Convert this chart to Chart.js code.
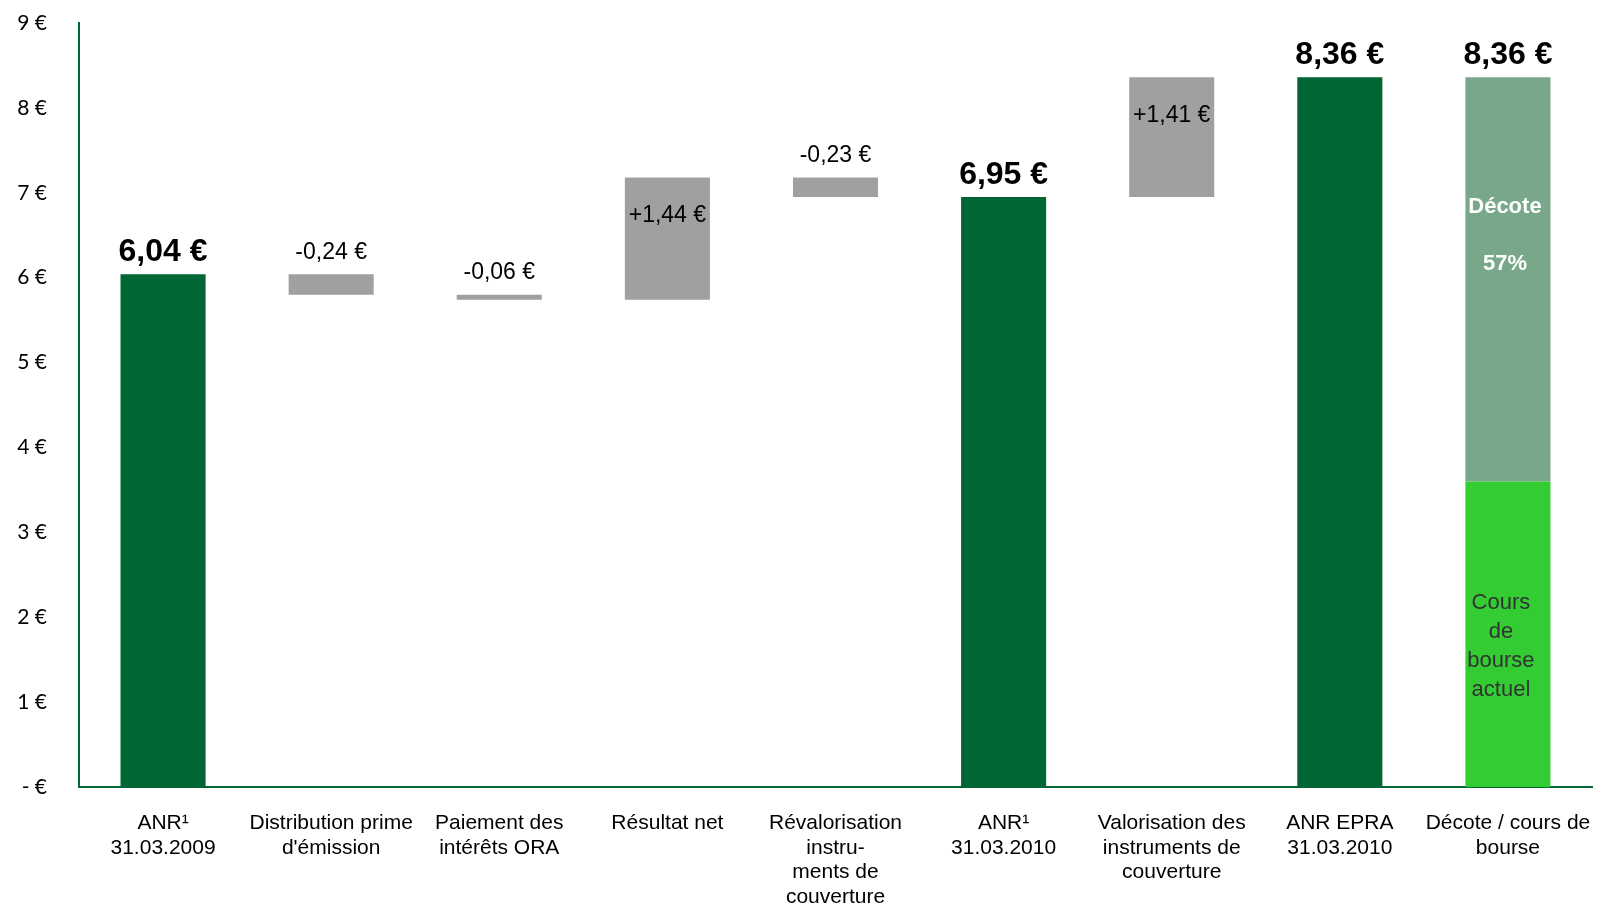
<!DOCTYPE html>
<html>
<head>
<meta charset="utf-8">
<script src="https://cdn.jsdelivr.net/npm/chart.js@4"></script>
<style>
  html, body { margin: 0; padding: 0; background: #fff; }
  #wrap { width: 1598px; height: 906px; }
</style>
</head>
<body>
<div id="wrap"><canvas id="anr-chart" width="1598" height="906"></canvas></div>
<script>
// Evolution de l'ANR par action
var categories = [
	['ANR\u00B9', '31.03.2009'],
	['Distribution prime', "d'émission"],
	['Paiement des', 'intérêts ORA'],
	['Résultat net'],
	['Révalorisation', 'instru-', 'ments de', 'couverture'],
	['ANR\u00B9', '31.03.2010'],
	['Valorisation des', 'instruments de', 'couverture'],
	['ANR EPRA', '31.03.2010'],
	['Décote / cours de', 'bourse']
];
var stepKind = ['total', 'delta', 'delta', 'delta', 'delta', 'total', 'delta', 'total', 'split'];
var stepValues = [6.04, -0.24, -0.06, 1.44, -0.23, 6.95, 1.41, 8.36, 8.36];
var coursBourse = 3.60;
var decotePct = 57;
var yTicks = [0, 1, 2, 3, 4, 5, 6, 7, 8, 9];

var colors = {
	total: '#006633',
	delta: '#A0A0A2',
	cours: '#33CC33',
	decote: '#78A889'
};

function euro(v, signed) {
	var s = v.toFixed(2).replace('.', ',') + ' €';
	return (signed && v > 0 ? '+' : '') + s;
}

// floating ranges for the waterfall
var mainData = [], mainColors = [], decoteData = [];
var run = 0;
stepKind.forEach(function (kind, i) {
	var v = stepValues[i];
	if (kind == 'total') {
		run = v;
		mainData.push([0, v]);
		mainColors.push(colors.total);
		decoteData.push(null);
	} else if (kind == 'delta') {
		mainData.push([run, run + v]);
		run = run + v;
		mainColors.push(colors.delta);
		decoteData.push(null);
	} else {
		mainData.push([0, coursBourse]);
		mainColors.push(colors.cours);
		decoteData.push([coursBourse, v]);
	}
});

var labelPlugin = {
	id: 'waterfallLabels',
	afterDatasetsDraw: function (chart) {
		var ctx = chart.ctx;
		var y = chart.scales.y;
		var meta = chart.getDatasetMeta(0);
		ctx.save();
		ctx.textAlign = 'center';
		stepKind.forEach(function (kind, i) {
			var bar = meta.data[i];
			var r = mainData[i];
			var v = stepValues[i];
			var top = y.getPixelForValue(Math.max(r[0], r[1]));
			if (kind == 'total' || kind == 'split') {
				var topV = kind == 'split' ? v : r[1];
				ctx.fillStyle = '#000';
				ctx.font = 'bold 32px "Liberation Sans", Arial, sans-serif';
				ctx.textBaseline = 'bottom';
				ctx.fillText(euro(v), bar.x, y.getPixelForValue(topV) - 6);
			} else if (v > 0) {
				ctx.fillStyle = '#000';
				ctx.font = '23px "Liberation Sans", Arial, sans-serif';
				ctx.textBaseline = 'middle';
				ctx.fillText(euro(v, true), bar.x, top + 38);
			} else {
				ctx.fillStyle = '#000';
				ctx.font = '23px "Liberation Sans", Arial, sans-serif';
				ctx.textBaseline = 'bottom';
				ctx.fillText(euro(v, true), bar.x, top - 10);
			}
			if (kind == 'split') {
				var t = y.getPixelForValue(v);
				ctx.fillStyle = '#fff';
				ctx.font = 'bold 22px "Liberation Sans", Arial, sans-serif';
				ctx.textBaseline = 'middle';
				ctx.fillText('Décote', bar.x - 3, t + 130);
				ctx.fillText(decotePct + '%', bar.x - 3, t + 187);

				var mid = (y.getPixelForValue(0) + y.getPixelForValue(coursBourse)) / 2 + 12;
				var lines = ['Cours', 'de', 'bourse', 'actuel'];
				ctx.fillStyle = '#333';
				ctx.font = '22px "Liberation Sans", Arial, sans-serif';
				lines.forEach(function (l, k) {
					ctx.fillText(l, bar.x - 7, mid + (k - 1.5) * 29);
				});
			}
		});
		ctx.restore();
	}
};

new Chart('anr-chart', {
	type: 'bar',
	data: {
		labels: categories,
		datasets: [
			{
				data: mainData,
				backgroundColor: mainColors,
				borderWidth: 0,
				grouped: false,
				barPercentage: 0.506,
				categoryPercentage: 1
			},
			{
				data: decoteData,
				backgroundColor: colors.decote,
				borderWidth: 0,
				grouped: false,
				barPercentage: 0.506,
				categoryPercentage: 1
			}
		]
	},
	options: {
		responsive: false,
		animation: false,
		layout: { padding: { top: 23, right: 6, left: 0, bottom: 0 } },
		plugins: {
			legend: { display: false },
			tooltip: { enabled: false }
		},
		scales: {
			x: {
				grid: { display: false, drawTicks: false },
				border: { color: '#006633', width: 2 },
				ticks: {
					color: '#000',
					padding: 24,
					maxRotation: 0,
					autoSkip: false,
					font: { family: '"Liberation Sans", Arial, sans-serif', size: 21, lineHeight: 1.17 }
				},
				afterFit: function (scale) {
					scale.height = 119;
					// let the last label run past the plot edge
					scale.paddingLeft = 0;
					scale.paddingRight = 0;
				}
			},
			y: {
				min: 0,
				max: 9,
				grid: { display: false, drawTicks: false },
				border: { color: '#006633', width: 2 },
				afterBuildTicks: function (scale) {
					scale.ticks = yTicks.map(function (v) { return { value: v }; });
				},
				ticks: {
					color: '#000',
					padding: 32,
					font: { family: 'Lato, "Open Sans", sans-serif', size: 21 },
					callback: function (v) { return v == 0 ? '- €' : v + ' €'; }
				},
				afterFit: function (scale) {
					scale.width = 79;
					scale.paddingTop = 0;
					scale.paddingBottom = 0;
				}
			}
		}
	},
	plugins: [labelPlugin]
});
</script>
</body>
</html>
